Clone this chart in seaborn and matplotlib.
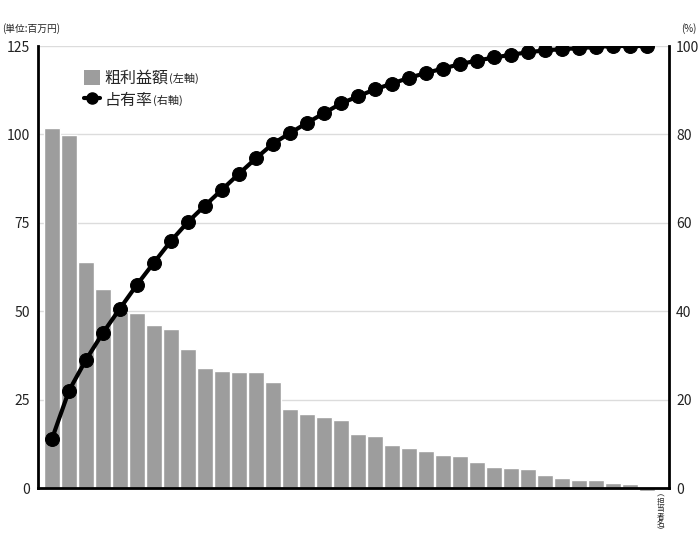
import numpy as np
import pandas as pd
import seaborn as sns
import matplotlib.pyplot as plt
import matplotlib.transforms as mtransforms
from matplotlib.patches import Patch
from matplotlib.lines import Line2D

# rank of each person (names are blurred in the source, so only ranks are kept)
ranks = list(range(1, 37))
# gross profit, million yen (left axis)
profit = [101.7, 99.8, 63.8, 56.4, 49.9, 49.5, 46.0, 45.0, 39.2, 33.8,
          33.0, 32.9, 32.8, 29.9, 22.4, 21.0, 20.2, 19.3, 15.2, 14.8,
          12.1, 11.2, 10.5, 9.4, 9.1, 7.4, 5.8, 5.6, 5.3, 3.8,
          2.7, 2.4, 2.4, 1.5, 1.2, -0.85]
# share, % (right axis)
share = [11.1, 22.0, 29.0, 35.1, 40.6, 46.0, 51.0, 55.9, 60.2, 63.9,
         67.5, 71.1, 74.6, 77.9, 80.3, 82.6, 84.8, 87.0, 88.6, 90.2,
         91.5, 92.8, 93.9, 94.9, 95.9, 96.7, 97.4, 98.0, 98.6, 99.0,
         99.3, 99.5, 99.8, 100.0, 100.0, 100.0]
left_ticks = [0, 25, 50, 75, 100, 125]
right_ticks = [0, 20, 40, 60, 80, 100]

df = pd.DataFrame({'rank': ranks, 'profit': profit, 'share': share})
df['pos'] = np.arange(len(df))

sns.set_theme(style='white')
plt.rcParams['font.family'] = ['Noto Sans CJK JP', 'DejaVu Sans']

W, H = 700, 537
fig = plt.figure(figsize=(W / 100, H / 100), dpi=100)
ax = fig.add_axes([38 / W, 1 - 488 / H, (669 - 38) / W, (488 - 46) / H])

bar_color = '#9d9d9d'
sns.barplot(data=df, x='rank', y='profit', color=bar_color, saturation=1,
            width=0.9, ax=ax, zorder=2)
for p in ax.patches:
    p.set_clip_on(False)

ax2 = ax.twinx()
sns.lineplot(data=df, x='pos', y='share', ax=ax2, color='black', lw=3,
             marker='o', markersize=10, markeredgecolor='black', zorder=3)

n = len(df)
ax.set_xlim(-0.82, n - 1 + 1.29)
ax.set_ylim(0, 125)
ax2.set_ylim(0, 100)
ax.set_yticks(left_ticks)
ax2.set_yticks(right_ticks)
ax.set_xticks([])
ax2.set_xticks([])
ax.set_xlabel('')
ax.set_ylabel('')
ax2.set_xlabel('')
ax2.set_ylabel('')

ax.yaxis.grid(True, color='#dcdcdc', lw=1)
ax.set_axisbelow(True)
ax.tick_params(axis='y', length=0, pad=6, labelsize=10, colors='#222222')
ax2.tick_params(axis='y', length=0, pad=5, labelsize=10, colors='#222222')

for a in (ax, ax2):
    for s in a.spines.values():
        s.set_visible(False)
ax.spines['left'].set_visible(True)
ax.spines['bottom'].set_visible(True)
ax2.spines['right'].set_visible(True)
for s in (ax.spines['left'], ax.spines['bottom'], ax2.spines['right']):
    s.set_color('black')
    s.set_linewidth(2)
ax.spines['bottom'].set_zorder(4)

# unit labels
fig.text(2 / W, 1 - 29 / H, '(単位:百万円)', fontsize=7, va='center', ha='left', color='#222222')
fig.text(697 / W, 1 - 29 / H, '(%)', fontsize=7, va='center', ha='right', color='#222222')

# vertical x label at the end
trans = mtransforms.blended_transform_factory(ax.transData, ax.transAxes)
ax.text(n - 1 + 0.78, -0.006, '︵\n担\n当\n者\n名\n︶', transform=trans,
        ha='center', va='top', fontsize=5.5, linespacing=0.9, color='#222222')

# legend
handles = [Patch(facecolor=bar_color, edgecolor='none'),
           Line2D([], [], color='black', lw=3, marker='o', markersize=8)]
leg = ax.legend(handles, ['粗利益額', '占有率'], loc='upper left',
                bbox_to_anchor=(84 / W, 1 - 70 / H), bbox_transform=fig.transFigure,
                frameon=False, fontsize=11.5, handlelength=1.0, handleheight=1.0,
                handletextpad=0.3, labelspacing=0.3, borderpad=0, borderaxespad=0)

fig.canvas.draw()
renderer = fig.canvas.get_renderer()
for txt, small in zip(leg.get_texts(), ['(左軸)', '(右軸)']):
    bb = txt.get_window_extent(renderer)
    fig.text(bb.x1 / W, (bb.y0 + bb.y1) / 2 / H, small, fontsize=8,
             va='center', ha='left', color='#222222')

fig.savefig('out.png', dpi=100)
